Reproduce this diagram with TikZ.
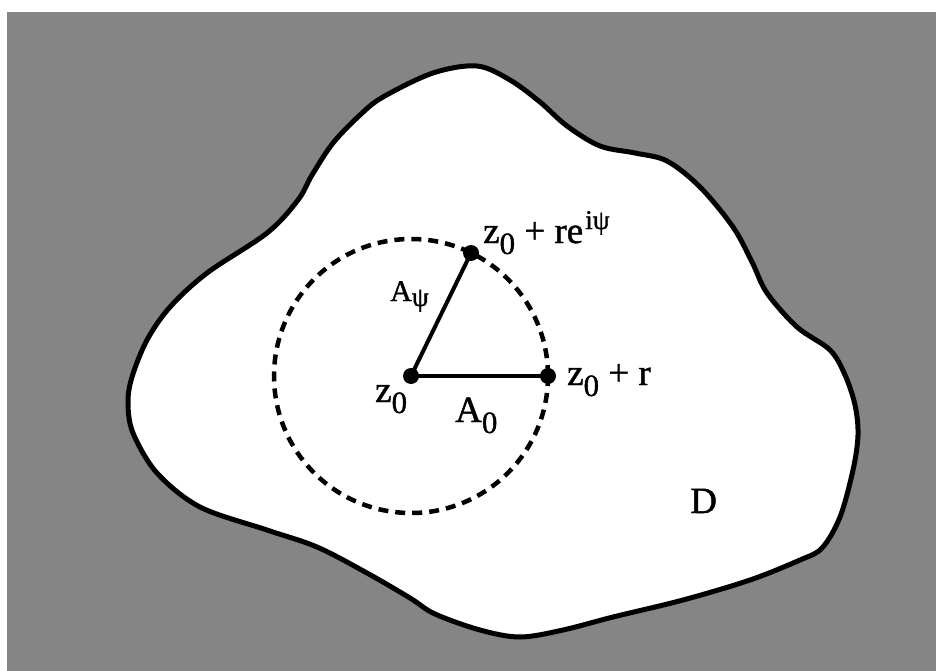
\documentclass[tikz,border=0pt]{standalone}
\usepackage{fontspec}
\setmainfont{Liberation Serif}[FakeBold=1.2]
\newcommand\lowsub[1]{\raisebox{-11pt}{\fontsize{31}{31}\selectfont #1}}
\newcommand\highsup[1]{\raisebox{14pt}{\fontsize{27}{27}\selectfont #1}}
\begin{document}
\begin{tikzpicture}[x=1pt,y=-1pt,
  bg/.style={fill=black!48},
  region/.style={fill=white,draw=black,line width=5pt},
  dashcircle/.style={draw=black,line width=4.5pt,dash pattern=on 10pt off 7pt},
  radius line/.style={draw=black,line width=4pt},
  dot/.style={circle,fill=black,inner sep=0pt,minimum size=16pt},
  lbl/.style={inner sep=0pt,anchor=base west,font=\fontsize{37}{40}\selectfont},
  smalllbl/.style={inner sep=0pt,anchor=base west,font=\fontsize{30}{34}\selectfont}]
\useasboundingbox (0,0) rectangle (936,671);
\fill[bg] (7,12) rectangle (936,671);
\path[region] plot[smooth cycle, tension=0.55] coordinates {
 (433,73) (477,66) (510,80) (540,102) (567,126) (600,146) (635,153) (667,161)
 (700,187) (733,227) (752,262) (767,293) (797,327) (830,350) (845,375)
 (855,405) (858,435) (853,470) (840,517) (822,548) (800,560) (750,580)
 (683,600) (613,617) (563,630) (520,637) (480,630) (435,614) (410,598)
 (367,573) (317,547) (267,530) (200,507) (157,473) (133,433) (128,403)
 (132,377) (147,340) (170,307) (207,273) (267,233) (298,200) (312,175)
 (333,143) (360,115) (383,97)};
\coordinate (c) at (411,376);
\draw[dashcircle] (c) circle[radius=137];
\node[dot] (z0) at (411,376) {};
\node[dot] (zr) at (548,376) {};
\node[dot] (zpsi) at (471,253) {};
\draw[radius line] (z0.center) -- (zr.center);
\draw[radius line] (z0.center) -- (zpsi.center);
\node[lbl] (lz0) at (375,402) {z\lowsub{0}};
\node[lbl] (lA0) at (455,422) {A\lowsub{0}};
\node[smalllbl] (lApsi) at (390,301) {A\raisebox{-5pt}{\fontsize{27}{27}\selectfont ψ}};
\node[lbl] (lzr) at (567,385) {z\lowsub{0} + r};
\node[lbl] (lzpsi) at (483,243) {z\lowsub{0} + re\kern2pt\highsup{iψ}};
\node[lbl] (lD) at (690,513) {D};
\end{tikzpicture}
\end{document}
